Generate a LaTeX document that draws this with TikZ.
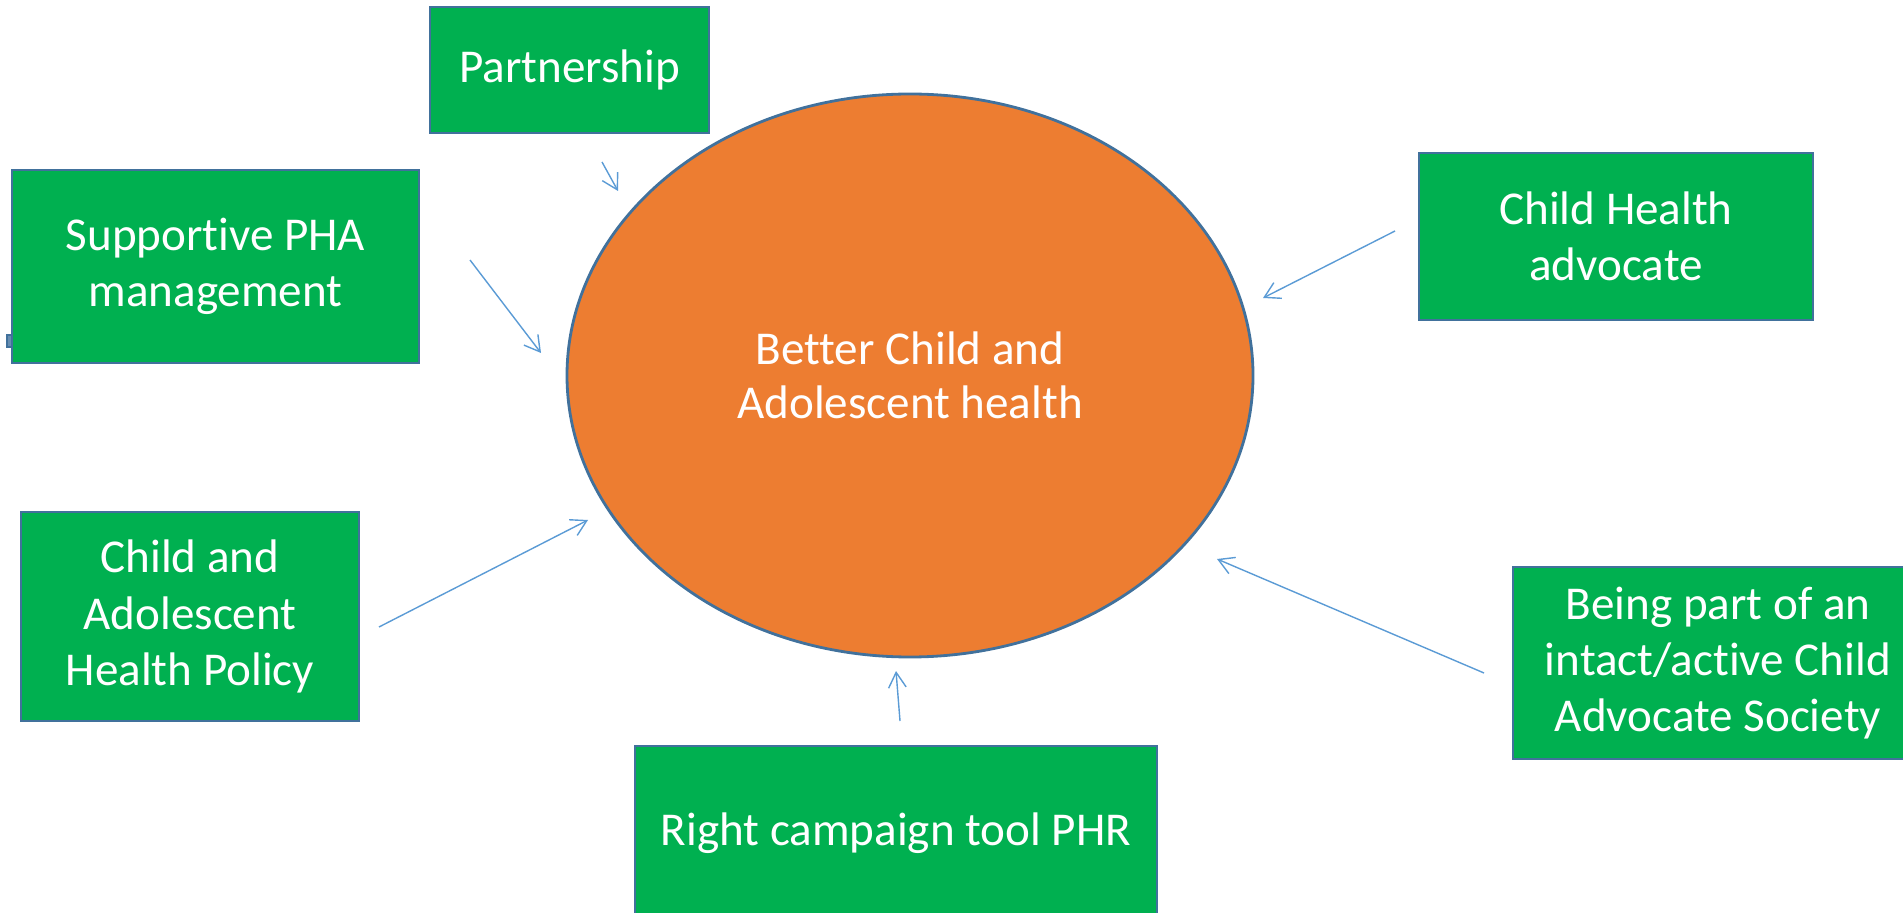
\documentclass[tikz,border=0pt]{standalone}
\usepackage{fontspec}
\setmainfont{Carlito}[RawFeature={-liga;-clig;-calt;-dlig;-rlig}]
\usetikzlibrary{
  arrows.meta, % for Straight Barb arrow tip
  shapes.geometric, % for the ellipse in the middle
}
\definecolor{boxgreen}{HTML}{00B050}
\definecolor{goalorange}{HTML}{ED7D31}
\definecolor{edgeblue}{HTML}{41719C}
\definecolor{arrowblue}{HTML}{5B9BD5}
\tikzset{
  factor/.style={ % style for each green box
    rectangle,draw=edgeblue,line width=0.6pt, % thin blue-grey outline
    fill=boxgreen, % green fill
    text=white,align=center, % white centred text
    font=\fontsize{13.4}{16}\selectfont,
    inner sep=0pt,
  },
  outcome/.style={ % style for the central ellipse
    ellipse,draw=edgeblue,line width=0.8pt,
    fill=goalorange,
    text=white,align=center,
    font=\fontsize{13.4}{15.4}\selectfont,
    inner sep=0pt,
    minimum width=6.86cm,minimum height=5.63cm,
  },
  conn/.style={ % style for the arrows
    -{Straight Barb[angle=60:5pt]}, % open barbed arrow tip
    draw=arrowblue,line width=0.4pt,
  },
}
\begin{document}
\begin{tikzpicture}

	\useasboundingbox (0,0) rectangle (19.03,-9.13);

	% small stray mark behind the left box
	\draw[edgeblue,fill=edgeblue!80] (0.07,-3.35) rectangle (0.13,-3.47);

	\node[outcome] (health) at (9.10,-3.755) {Better Child and\\Adolescent health};

	\node[factor,minimum width=2.79cm,minimum height=1.26cm] (partner) at (5.695,-0.70) {Partnership};
	\node[factor,minimum width=4.07cm,minimum height=1.93cm] (support) at (2.155,-2.665) {Supportive PHA\\management};
	\node[factor,minimum width=3.385cm,minimum height=2.09cm] (policy) at (1.90,-6.165) {Child and\\Adolescent\\Health Policy};
	\node[factor,minimum width=5.22cm,minimum height=1.74cm] (campaign) at (8.96,-8.33) {Right campaign tool PHR};
	\node[factor,minimum width=4.10cm,minimum height=1.92cm] (society) at (17.18,-6.63) {Being part of an\\intact/active Child\\Advocate Society};
	\node[factor,minimum width=3.94cm,minimum height=1.67cm] (advocate) at (16.16,-2.365) {Child Health\\advocate};

	% free arrow ends
	\coordinate (partner-a) at (6.02,-1.62);
	\coordinate (partner-b) at (6.18,-1.91);
	\coordinate (support-a) at (4.70,-2.60);
	\coordinate (support-b) at (5.41,-3.53);
	\coordinate (policy-a) at (3.79,-6.27);
	\coordinate (policy-b) at (5.88,-5.20);
	\coordinate (campaign-a) at (9.00,-7.21);
	\coordinate (campaign-b) at (8.96,-6.71);
	\coordinate (society-a) at (14.84,-6.73);
	\coordinate (society-b) at (12.17,-5.59);
	\coordinate (advocate-a) at (13.95,-2.31);
	\coordinate (advocate-b) at (12.63,-2.98);

	\draw[conn] (partner-a) -- (partner-b);
	\draw[conn] (support-a) -- (support-b);
	\draw[conn] (policy-a) -- (policy-b);
	\draw[conn] (campaign-a) -- (campaign-b);
	\draw[conn] (society-a) -- (society-b);
	\draw[conn] (advocate-a) -- (advocate-b);

\end{tikzpicture}
\end{document}
